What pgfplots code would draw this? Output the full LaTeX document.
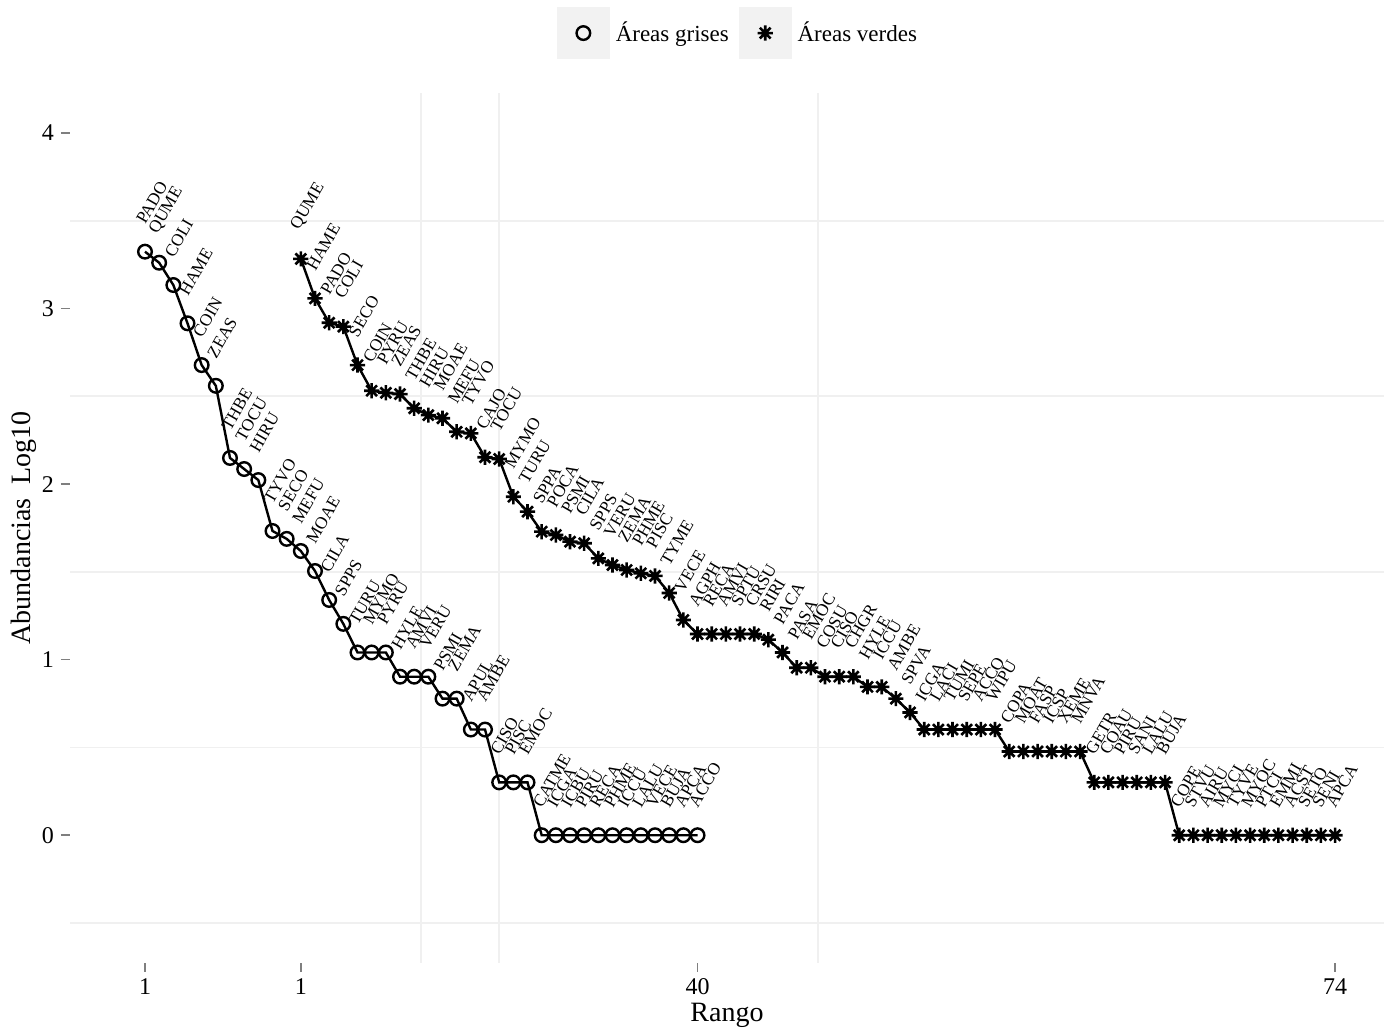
\documentclass[border=0pt]{standalone}
\usepackage{fontspec}
\setmainfont{Liberation Serif}
\usepackage{pgfplots}
\pgfplotsset{compat=1.18}
\usepackage{pgfplotstable}
\definecolor{gridc}{HTML}{F0F0F0}
\definecolor{keyc}{HTML}{F2F2F2}
\definecolor{tickc}{HTML}{7F7F7F}

\pgfdeclareplotmark{ast8}{%
  \pgfpathmoveto{\pgfqpoint{-\pgfplotmarksize}{0pt}}\pgfpathlineto{\pgfqpoint{\pgfplotmarksize}{0pt}}%
  \pgfpathmoveto{\pgfqpoint{0pt}{-\pgfplotmarksize}}\pgfpathlineto{\pgfqpoint{0pt}{\pgfplotmarksize}}%
  \pgfpathmoveto{\pgfqpoint{-0.7071\pgfplotmarksize}{-0.7071\pgfplotmarksize}}\pgfpathlineto{\pgfqpoint{0.7071\pgfplotmarksize}{0.7071\pgfplotmarksize}}%
  \pgfpathmoveto{\pgfqpoint{-0.7071\pgfplotmarksize}{0.7071\pgfplotmarksize}}\pgfpathlineto{\pgfqpoint{0.7071\pgfplotmarksize}{-0.7071\pgfplotmarksize}}%
  \pgfusepathqstroke}

\pgfplotstableread{
x y lab
1 3.324 PADO
2 3.261 QUME
3 3.134 COLI
4 2.916 HAME
5 2.678 COIN
6 2.560 ZEAS
7 2.149 THBE
8 2.086 TOCU
9 2.023 HIRU
10 1.733 TYVO
11 1.688 SECO
12 1.619 MEFU
13 1.505 MOAE
14 1.340 CILA
15 1.204 SPPS
16 1.041 TURU
17 1.041 MYMO
18 1.041 PYRU
19 0.903 HYLE
20 0.903 AMVI
21 0.903 VERU
22 0.778 PSMI
23 0.778 ZEMA
24 0.602 APUL
25 0.602 AMBE
26 0.301 CISO
27 0.301 PISC
28 0.301 EMOC
29 0 CATME
30 0 ICGA
31 0 ICBU
32 0 PIRU
33 0 RECA
34 0 PHME
35 0 ICCU
36 0 LALU
37 0 VECE
38 0 BUJA
39 0 APCA
40 0 ACCO
}\grises

\pgfplotstableread{
x y lab
12 3.283 QUME
13 3.058 HAME
14 2.919 PADO
15 2.897 COLI
16 2.678 SECO
17 2.532 COIN
18 2.520 PYRU
19 2.513 ZEAS
20 2.432 THBE
21 2.393 HIRU
22 2.375 MOAE
23 2.298 MEFU
24 2.289 TYVO
25 2.153 CAJO
26 2.143 TOCU
27 1.928 MYMO
28 1.843 TURU
29 1.729 SPPA
30 1.710 POCA
31 1.672 PSMI
32 1.663 CILA
33 1.577 SPPS
34 1.539 VERU
35 1.511 ZEMA
36 1.492 PHME
37 1.477 PISC
38 1.380 TYME
39 1.226 VECE
40 1.146 AGPH
41 1.146 RECA
42 1.146 AMVI
43 1.146 SPTU
44 1.146 CRSU
45 1.114 RIRI
46 1.041 PACA
47 0.954 PASA
48 0.954 EMOC
49 0.903 COSU
50 0.903 CISO
51 0.903 CHGR
52 0.845 HYLE
53 0.845 ICCU
54 0.778 AMBE
55 0.699 SPVA
56 0.602 ICGA
57 0.602 LACI
58 0.602 TUMI
59 0.602 SEPE
60 0.602 ACCO
61 0.602 WIPU
62 0.477 COPA
63 0.477 MOAT
64 0.477 FASP
65 0.477 ICSP
66 0.477 XEME
67 0.477 MNVA
68 0.301 GETR
69 0.301 COAU
70 0.301 PIRU
71 0.301 SANI
72 0.301 LALU
73 0.301 BUJA
74 0 COPE
75 0 STVU
76 0 AIRU
77 0 MYCI
78 0 TYVE
79 0 MYOC
80 0 PTCI
81 0 EMMI
82 0 ACST
83 0 SETO
84 0 SENI
85 0 APCA
}\verdes

\pgfplotsset{
  keyimg/.style={legend image code/.code={%
      \fill[keyc,draw=none] (0pt,-13.2pt) rectangle (26.4pt,13.2pt);
      \draw[only marks] plot coordinates {(13.2pt,0pt)};}},
  ptlabels/.style={nodes near coords={\pgfplotspointmeta},
      point meta=explicit symbolic,
      every node near coord/.append style={font=\fontsize{8.6}{9}\selectfont, text=black,
        inner sep=0pt, anchor=south west, yshift=12.5pt, xshift=0.5pt, rotate=60}},
}

\begin{document}
\begin{tikzpicture}
\useasboundingbox (0,0) rectangle (692pt,514.5pt);
\begin{axis}[
  at={(35pt,33.25pt)}, anchor=south west,
  scale only axis, width=657pt, height=434.5pt,
  xmin=-4.294, xmax=88.456, ymin=-0.725, ymax=4.225,
  axis x line*=bottom, axis y line*=left, axis line style={draw=none},
  xtick={1,12,40,85}, xticklabels={1,1,40,74},
  ytick={0,1,2,3,4},
  minor xtick={20.5,26,48.5}, minor ytick={-0.5,0.5,1.5,2.5,3.5},
  grid=minor, minor grid style={draw=gridc, line width=0.9pt},
  minor tick length=0pt,
  tick align=outside, major tick length=4.5pt,
  major tick style={draw=tickc, line width=0.8pt},
  ticklabel style={font=\fontsize{12}{14}\selectfont},
  /pgf/number format/assume math mode=true,
  xlabel={Rango}, ylabel={Abundancias\ \ Log10},
  xlabel style={at={(axis description cs:0.5,-0.0673)}, anchor=base, font=\fontsize{14}{16}\selectfont},
  ylabel style={at={(axis description cs:-0.035,0.5)}, anchor=center, font=\fontsize{14}{16}\selectfont},
  legend columns=2, legend cell align=left,
  legend style={at={(axis description cs:0.5076,1.0999)}, anchor=north, draw=none, fill=none,
    inner sep=0pt, outer sep=0pt, font=\fontsize{11.5}{13}\selectfont,
    nodes={inner sep=0pt},
    /tikz/every odd column/.append style={column sep=3pt},
    /tikz/every even column/.append style={column sep=5pt}},
]
\addplot[black, line width=1.2pt, mark=o, mark size=3.4pt,
  mark options={line width=1.2pt, fill=none}, keyimg, ptlabels]
  table[x=x, y=y, meta=lab] {\grises};
\addlegendentry{Áreas grises}
\addplot[black, line width=1.2pt, mark=ast8, mark size=3.8pt,
  mark options={line width=1.3pt}, keyimg, ptlabels]
  table[x=x, y=y, meta=lab] {\verdes};
\addlegendentry{Áreas verdes}
\end{axis}
\end{tikzpicture}
\end{document}
